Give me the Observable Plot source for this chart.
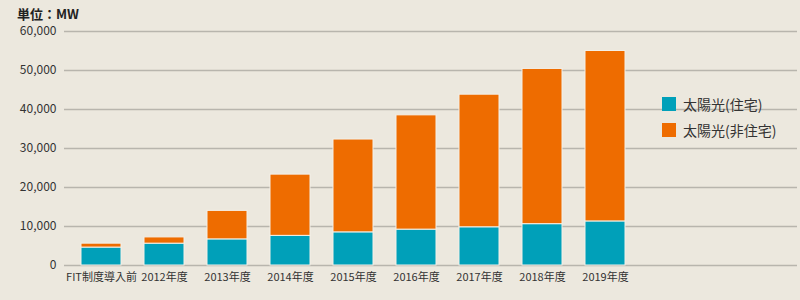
<!DOCTYPE html>
<html>
<head>
<meta charset="utf-8">
<script src="https://cdn.jsdelivr.net/npm/d3@7"></script>
<script src="https://cdn.jsdelivr.net/npm/@observablehq/plot@0.6"></script>
<style>
  html, body { margin: 0; padding: 0; }
  body { width: 800px; height: 300px; background: #ECE8DE; font-family: "Noto Sans CJK JP", "Noto Sans", sans-serif; position: relative; overflow: hidden; }
  #chart { position: absolute; left: 0; top: 0; }
  #unit { position: absolute; left: 17px; top: 4px; font-size: 13px; font-weight: bold; color: #222; }
  #legend { position: absolute; left: 662px; top: 91px; font-size: 14px; color: #333; }
  .item { display: flex; align-items: center; height: 26px; }
  .sw { width: 14px; height: 14px; margin-right: 7px; }
</style>
</head>
<body>
<div id="chart"></div>
<div id="unit">単位：MW</div>
<div id="legend"></div>
<script>
const categories = ["FIT制度導入前", "2012年度", "2013年度", "2014年度", "2015年度", "2016年度", "2017年度", "2018年度", "2019年度"];
const residential = [4600, 5600, 6700, 7600, 8500, 9200, 9800, 10600, 11300];
const nonResidential = [1000, 1600, 7300, 15700, 23800, 29300, 34000, 39800, 43700];
const seriesNames = ["太陽光(住宅)", "太陽光(非住宅)"];
const seriesColors = ["#00A0B9", "#EE6C00"];
const yTicks = [0, 10000, 20000, 30000, 40000, 50000, 60000];

const data = [];
categories.forEach((c, i) => {
  data.push({cat: c, series: seriesNames[0], value: residential[i]});
  data.push({cat: c, series: seriesNames[1], value: nonResidential[i]});
});

const chart = Plot.plot({
  width: 800,
  height: 300,
  marginTop: 31,
  marginBottom: 35,
  marginLeft: 64,
  marginRight: 3,
  style: {background: "transparent", fontFamily: "'Noto Sans CJK JP', sans-serif", fontSize: "12px", color: "#333"},
  x: {domain: categories, range: [64, 641], paddingInner: 0.37, paddingOuter: 0.22, label: null},
  y: {domain: [0, 60000], label: null},
  color: {domain: seriesNames, range: seriesColors},
  marks: [
    Plot.ruleY(yTicks, {stroke: "#B8B5AD", strokeWidth: 1.5}),
    Plot.barY(data, {x: "cat", y: "value", fill: "series", stroke: "#F3F0E8", strokeWidth: 1}),
    Plot.axisY(yTicks, {tickSize: 0, tickPadding: 8, tickFormat: d3.format(","), fontSize: 12, fill: "#333"}),
    Plot.axisX({tickSize: 0, tickPadding: 8, fontSize: 11, fill: "#333"})
  ]
});
document.getElementById("chart").appendChild(chart);

const legend = document.getElementById("legend");
seriesNames.forEach((n, i) => {
  const it = document.createElement("div");
  it.className = "item";
  it.innerHTML = `<div class="sw" style="background:${seriesColors[i]}"></div><span>${n}</span>`;
  legend.appendChild(it);
});
</script>
</body>
</html>
